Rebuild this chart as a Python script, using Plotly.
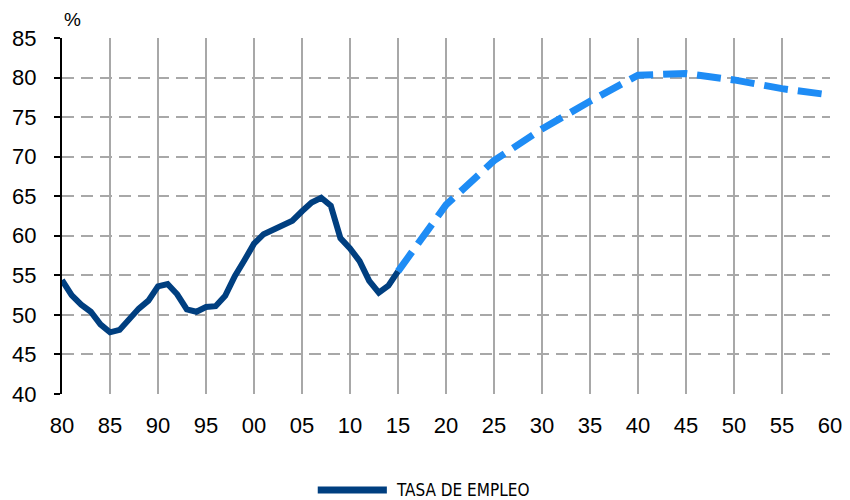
import plotly.graph_objects as go

# Tasa de empleo (%), historical yearly data
hist_years = list(range(1980, 2016))
hist_values = [54.4, 52.5, 51.3, 50.4, 48.8, 47.8, 48.1, 49.6, 50.8, 51.8,
               53.6, 53.9, 52.6, 50.7, 50.4, 51.0, 51.1, 52.4, 54.9, 56.9,
               59.0, 60.2, 60.8, 61.2, 61.9, 63.1, 64.2, 64.8, 63.8, 59.7,
               58.4, 56.8, 54.3, 52.8, 53.7, 55.5]

# projection (5-year points)
proj_years = [2015, 2020, 2025, 2030, 2035, 2040, 2045, 2050, 2055, 2060]
proj_values = [55.5, 63.9, 69.5, 73.5, 77.0, 80.3, 80.5, 79.7, 78.6, 77.8]

x_ticks = list(range(1980, 2061, 5))
x_labels = ["80", "85", "90", "95", "00", "05", "10", "15", "20",
            "25", "30", "35", "40", "45", "50", "55", "60"]
y_ticks = list(range(40, 86, 5))

HIST_COLOR = "#003f80"
PROJ_COLOR = "#1e8cf5"

fig = go.Figure()

fig.add_trace(go.Scatter(
    x=proj_years, y=proj_values,
    mode="lines", showlegend=False,
    line=dict(color=PROJ_COLOR, width=7, dash="24px,10px"),
))

fig.add_trace(go.Scatter(
    x=hist_years, y=hist_values,
    mode="lines", name="TASA DE EMPLEO", showlegend=False,
    line=dict(color=HIST_COLOR, width=6),
))

# hand-drawn legend below the plot (long line sample, like the original)
fig.add_shape(type="line", xref="paper", yref="paper",
              x0=0.333, x1=0.423, y0=-0.27, y1=-0.27,
              line=dict(color=HIST_COLOR, width=7))

# page body keeps its default 8px margin, so the figure is sized 8px smaller
fig.update_layout(
    width=842, height=492,
    paper_bgcolor="white", plot_bgcolor="white",
    font=dict(family="Liberation Sans, Arial, sans-serif", size=22, color="black"),
    margin=dict(l=54, r=20, t=30, b=106),
    showlegend=False,
    xaxis=dict(
        range=[1980, 2060], tickvals=x_ticks, ticktext=x_labels,
        showgrid=True, gridcolor="#a8a8a8", gridwidth=2, griddash="solid",
        zeroline=False, showline=False, ticks="", ticklabelstandoff=16,
        automargin=False,
    ),
    yaxis=dict(
        range=[40, 85], tickvals=y_ticks,
        showgrid=True, gridcolor="#a8a8a8", gridwidth=2, griddash="12px,7px",
        zeroline=False, showline=True, linecolor="black", linewidth=2,
        ticks="outside", ticklen=6, tickwidth=2, tickcolor="black",
        ticklabelstandoff=13, automargin=False,
    ),
    annotations=[
        dict(text="%", x=0, y=1, xref="paper", yref="paper",
             xanchor="left", yanchor="bottom", yshift=6, showarrow=False,
             font=dict(size=19)),
        dict(text="TASA DE EMPLEO", x=0.432, y=-0.27, xref="paper", yref="paper",
             xanchor="left", yanchor="middle", showarrow=False,
             font=dict(family="DejaVu Sans Condensed, Liberation Sans Narrow, sans-serif",
                       size=17)),
    ],
)

fig.write_html("out.html")
